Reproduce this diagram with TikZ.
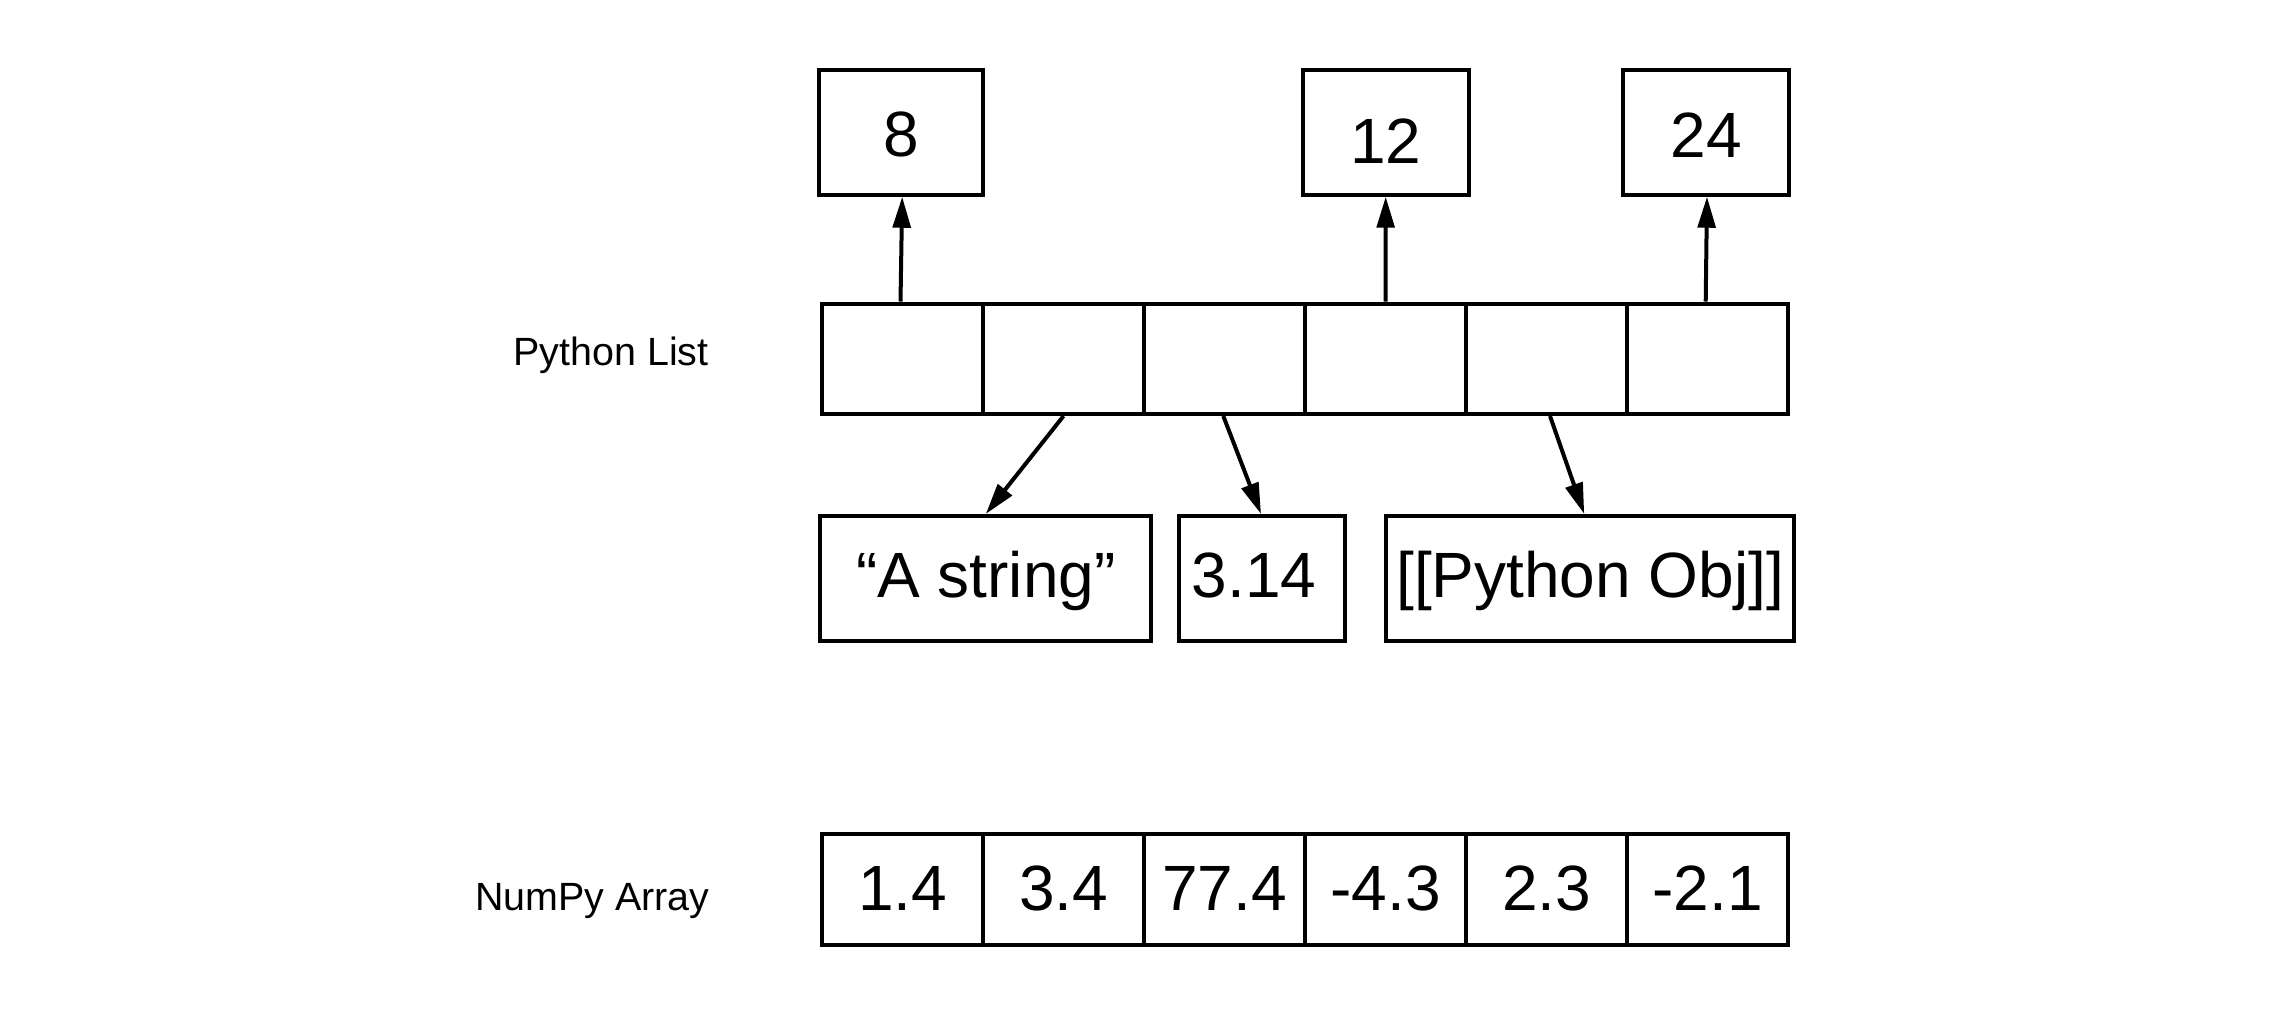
\documentclass[tikz,border=0pt]{standalone}
\usepackage{fontspec}
\setmainfont{Liberation Sans}
\usetikzlibrary{arrows.meta}
\begin{document}
\begin{tikzpicture}[x=0.5pt,y=-0.5pt,
  box/.style={draw, line width=2pt, inner sep=0pt, text depth=0pt},
  bignum/.style={font=\fontsize{32pt}{38pt}\selectfont},
  lab/.style={font=\fontsize{19.7pt}{24pt}\selectfont, inner sep=0pt, anchor=base east},
  topbox/.style={box, bignum, minimum width=83pt, minimum height=62.2pt},
  objbox/.style={box, bignum, minimum height=62.35pt, text height=19pt},
  cellbox/.style={box, minimum width=80.5pt},
  arr/.style={line width=2pt, -{Triangle[length=15.5pt,width=8.8pt]}}]
\useasboundingbox (0,0) rectangle (2280,1025);
% top value boxes
\node[topbox, minimum width=82pt, text height=24.2pt] (b8) at (901,132.5) {8};
\node[topbox, text height=30.5pt] (b12) at (1385.7,132.5) {12};
\node[topbox, text height=24.5pt] (b24) at (1706,132.5) {24};
% python list
\foreach \i/\x in {1/902.5,2/1063.5,3/1224.5,4/1385.5,5/1546.5,6/1707.5}
  \node[cellbox, minimum height=55.25pt] (l\i) at (\x,358.75) {};
\node[lab] (pl) at (709,365) {Python List};
% objects
\node[objbox, minimum width=165.5pt] (sA) at (985.8,578.3) {“A string”};
\node[objbox, minimum width=82.7pt] (s314) at (1262,578.3) {\hspace*{-4pt}3.14\hspace*{4pt}};
\node[objbox, minimum width=203.85pt] (po) at (1590.2,578.3) {[[Python Obj]]};
% numpy array
\foreach \i/\x/\v in {1/902.5/1.4,2/1063.5/3.4,3/1224.5/77.4,4/1385.5/-4.3,5/1546.5/2.3,6/1707.5/-2.1}
  \node[cellbox, bignum, minimum height=55.5pt, text height=20.9pt] (n\i) at (\x,889.8) {\v};
\node[lab] (na) at (710,910.7) {NumPy Array};
% arrows
\draw[arr] ([xshift=-1pt]l1.north) -- ([xshift=0.6pt]b8.south);
\draw[arr] (l4.north) -- (b12.south);
\draw[arr] ([xshift=-0.9pt]l6.north) -- ([xshift=0.5pt]b24.south);
\draw[arr] (l2.south) -- (sA.north);
\draw[arr] ([xshift=-0.6pt]l3.south) -- ([xshift=-0.5pt]s314.north);
\draw[arr] ([xshift=1.75pt]l5.south) -- ([xshift=-3pt]po.north);
\end{tikzpicture}
\end{document}
